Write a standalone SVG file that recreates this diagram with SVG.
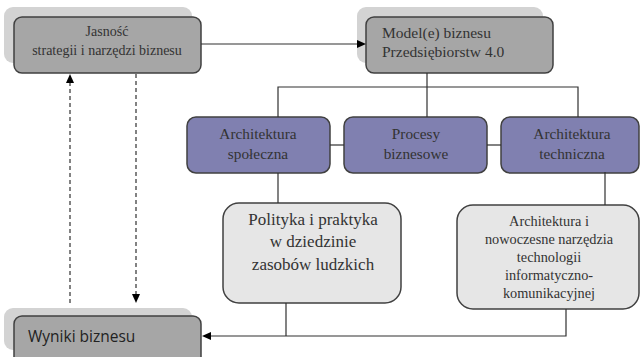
<svg xmlns="http://www.w3.org/2000/svg" width="640" height="357" viewBox="0 0 640 357">
<style>
.sh{fill:#d3d3d3;stroke:none}
.gb{fill:#a6a6a6;stroke:#404040;stroke-width:1.5}
.pb{fill:#8080b0;stroke:#404040;stroke-width:1.5}
.lb{fill:#e6e6e6;stroke:#404040;stroke-width:1.5}
.c{fill:none;stroke:#303030;stroke-width:1.2}
.d{fill:none;stroke:#303030;stroke-width:1.2;stroke-dasharray:4,3}
</style>
<rect x="0" y="0" width="640" height="357" fill="#ffffff"/>
<g id="jasnosc">
<rect class="sh" x="4" y="7" width="188" height="56" rx="9"/>
<rect class="gb" x="14" y="17" width="187" height="56" rx="8"/>
<text font-family="Liberation Serif, DejaVu Serif, serif" font-size="14" fill="#333" text-anchor="middle" x="107" y="36">Jasność</text>
<text font-family="Liberation Serif, DejaVu Serif, serif" font-size="14" fill="#333" text-anchor="middle" x="107" y="55">strategii i narzędzi biznesu</text>
</g>
<g id="model">
<rect class="sh" x="357" y="7" width="186" height="56" rx="9"/>
<rect class="gb" x="366" y="17" width="187" height="56" rx="8"/>
<text font-family="Liberation Serif, DejaVu Serif, serif" font-size="15.5" fill="#333" x="382" y="38">Model(e) biznesu</text>
<text font-family="Liberation Serif, DejaVu Serif, serif" font-size="15.5" fill="#333" x="382" y="57">Przedsiębiorstw 4.0</text>
</g>
<g id="arch-spoleczna">
<rect class="pb" x="187" y="117" width="143" height="56" rx="9"/>
<text font-family="Liberation Serif, DejaVu Serif, serif" font-size="15.3" fill="#333" text-anchor="middle" x="258" y="139">Architektura</text>
<text font-family="Liberation Serif, DejaVu Serif, serif" font-size="15.3" fill="#333" text-anchor="middle" x="258" y="159">społeczna</text>
</g>
<g id="procesy">
<rect class="pb" x="344" y="117" width="143" height="56" rx="9"/>
<text font-family="Liberation Serif, DejaVu Serif, serif" font-size="15.3" fill="#333" text-anchor="middle" x="416" y="139">Procesy</text>
<text font-family="Liberation Serif, DejaVu Serif, serif" font-size="15.3" fill="#333" text-anchor="middle" x="416" y="159">biznesowe</text>
</g>
<g id="arch-techniczna">
<rect class="pb" x="501" y="117" width="138" height="56" rx="9"/>
<text font-family="Liberation Serif, DejaVu Serif, serif" font-size="15.3" fill="#333" text-anchor="middle" x="572" y="139">Architektura</text>
<text font-family="Liberation Serif, DejaVu Serif, serif" font-size="15.3" fill="#333" text-anchor="middle" x="572" y="159">techniczna</text>
</g>
<g id="polityka">
<rect class="lb" x="223" y="203" width="178" height="100" rx="16"/>
<text font-family="Liberation Serif, DejaVu Serif, serif" font-size="17" fill="#333" text-anchor="middle" x="313" y="225">Polityka i praktyka</text>
<text font-family="Liberation Serif, DejaVu Serif, serif" font-size="17" fill="#333" text-anchor="middle" x="313" y="247">w dziedzinie</text>
<text font-family="Liberation Serif, DejaVu Serif, serif" font-size="17" fill="#333" text-anchor="middle" x="313" y="270">zasobów ludzkich</text>
</g>
<g id="narzedzia">
<rect class="lb" x="457" y="205" width="182" height="104" rx="16"/>
<text font-family="Liberation Serif, DejaVu Serif, serif" font-size="14.3" fill="#333" text-anchor="middle" x="549" y="226">Architektura i</text>
<text font-family="Liberation Serif, DejaVu Serif, serif" font-size="14.3" fill="#333" text-anchor="middle" x="549" y="244">nowoczesne narzędzia</text>
<text font-family="Liberation Serif, DejaVu Serif, serif" font-size="14.3" fill="#333" text-anchor="middle" x="549" y="262">technologii</text>
<text font-family="Liberation Serif, DejaVu Serif, serif" font-size="14.3" fill="#333" text-anchor="middle" x="549" y="280">informatyczno-</text>
<text font-family="Liberation Serif, DejaVu Serif, serif" font-size="14.3" fill="#333" text-anchor="middle" x="549" y="298">komunikacyjnej</text>
</g>
<g id="wyniki">
<rect class="sh" x="4" y="308" width="188" height="42" rx="9"/>
<rect class="gb" x="14" y="316" width="187" height="56" rx="8"/>
<text font-family="Open Sans, Liberation Sans, sans-serif" font-size="15.5" fill="#222" x="28" y="342">Wyniki biznesu</text>
</g>
<g id="connectors">
<line class="c" x1="201" y1="44" x2="358" y2="44"/>
<polygon points="366,44 357,40 357,48" fill="#000000"/>
<line class="c" x1="427" y1="73" x2="427" y2="117"/>
<polyline class="c" points="278,117 278,87 578,87 578,117"/>
<line class="c" x1="330" y1="145" x2="344" y2="145"/>
<line class="c" x1="487" y1="145" x2="501" y2="145"/>
<line class="c" x1="278" y1="173" x2="278" y2="203"/>
<line class="c" x1="605" y1="172" x2="605" y2="205"/>
<line class="c" x1="286" y1="303" x2="286" y2="336"/>
<polyline class="c" points="566,309 566,336 209,336"/>
<polygon points="202,336 211,332 211,340" fill="#000000"/>
<line class="d" x1="70" y1="303" x2="70" y2="82"/>
<polygon points="70,74 66,83 74,83" fill="#000000"/>
<line class="d" x1="136" y1="74" x2="136" y2="295"/>
<polygon points="136,303 132,294 140,294" fill="#000000"/>
</g>
</svg>
